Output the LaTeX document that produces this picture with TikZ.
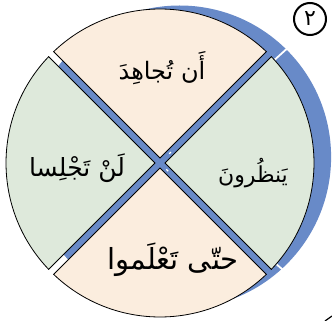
\documentclass[tikz,border=0pt]{standalone}
\usepackage{fontspec}
\TeXXeTstate=1
\newfontfamily\arabicfont[Script=Arabic]{DejaVu Sans}
\definecolor{peach}{RGB}{251,237,222}
\definecolor{sage}{RGB}{222,233,219}
\definecolor{shadeblue}{RGB}{104,138,200}
\begin{document}
\begin{tikzpicture}[x=1pt,y=1pt,
  sector/.style={draw=black, line width=0.8pt, line join=miter},
  lbl/.style={font=\arabicfont\fontsize{#1}{#1}\selectfont, inner sep=0pt},
  lbl/.default=24,
  cut/.style={draw=white, line width=1.8pt}]
\useasboundingbox (-160,-158) rectangle (172,163);
% blue shadow disk
\fill[shadeblue] (19.6,6) circle[radius=151.5];
\draw[cut] (42:149) -- (42:185);
\draw[cut] (-41:149) -- (-41:185);
\draw[draw=white, line width=1.2pt] (45:13) -- (45:15.5);
\draw[draw=white, line width=1.2pt] (-45:9) -- (-45:11.5);
% sectors
\path[sector, fill=peach] (0,4.95) -- (46.3:154) arc[start angle=46.3, end angle=133.7, radius=154] -- cycle;
\path[sector, fill=sage] (-4.95,0) -- (136.3:154) arc[start angle=136.3, end angle=223.7, radius=154] -- cycle;
\path[sector, fill=peach] (0,-4.95) -- (226.3:154) arc[start angle=226.3, end angle=313.7, radius=154] -- cycle;
\path[sector, fill=sage] (4.95,0) -- (-43.7:154) arc[start angle=-43.7, end angle=43.7, radius=154] -- cycle;
% labels
\node[lbl=24] (top) at (2,95) {\beginR أَن تُجاهِدَ\endR};
\node[lbl=25] (left) at (-83,-5) {\beginR لَنْ تَجْلِسا\endR};
\node[lbl=22] (right) at (93,-10) {\beginR يَنظُرونَ\endR};
\node[lbl=29] (bottom) at (13,-97) {\beginR حتّى تَعْلَموا\endR};
% circled number
\node[circle, draw, line width=2pt, minimum size=32pt, inner sep=0pt,
      font=\arabicfont\fontsize{22}{24}\selectfont] (num) at (150,144) {٢};
% stray mark at bottom right
\coordinate (m1) at (165,-158);
\coordinate (m2) at (172,-153);
\draw[line width=1.2pt] (m1) -- (m2);
\end{tikzpicture}
\end{document}
